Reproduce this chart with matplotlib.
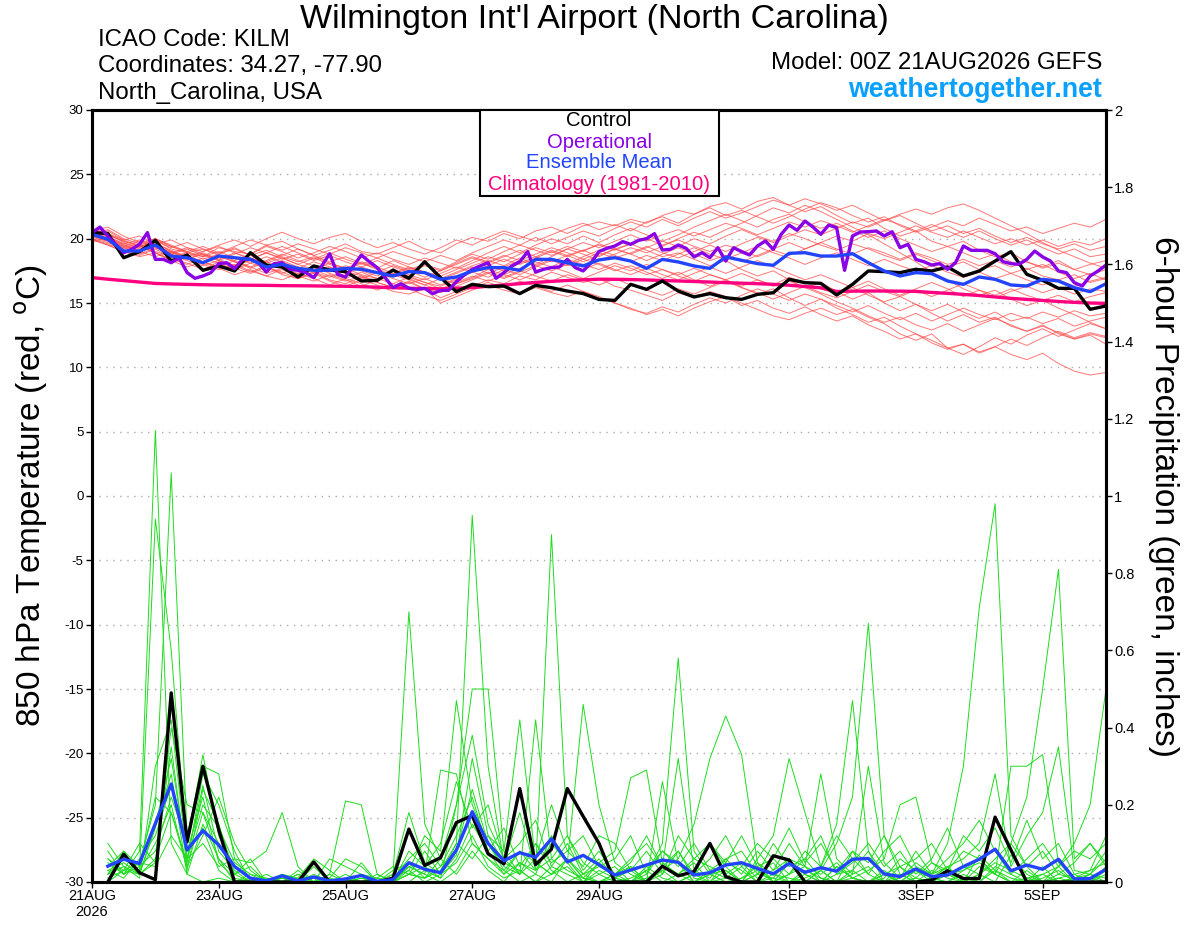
import numpy as np
import matplotlib
matplotlib.use('Agg')
import matplotlib.pyplot as plt
from matplotlib.patches import Rectangle

plt.rcParams['font.family'] = ['Liberation Sans', 'DejaVu Sans']

# forecast hours (6-hourly for GEFS, 3-hourly for operational)
hrs_t = np.arange(0, 385, 6)
hrs_p = np.arange(6, 385, 6)
hrs_op = np.arange(0, 385, 3)

tick_hours = [0, 48, 96, 144, 192, 264, 312, 360]
tick_labels = ['21AUG\n2026', '23AUG', '25AUG', '27AUG', '29AUG', '1SEP', '3SEP', '5SEP']

# 850 hPa temperature (C)
control_t = [20.47, 20.4, 18.52, 18.99, 19.87, 18.26, 18.73, 17.54, 17.88, 17.49, 18.91, 17.95, 17.80,
             17.02, 17.88, 17.56, 17.44, 16.71, 16.76, 17.56, 16.92, 18.21, 16.97, 15.88, 16.45, 16.27,
             16.32, 15.73, 16.37, 16.19, 15.93, 15.73, 15.28, 15.2, 16.45, 16.06, 16.71, 15.93, 15.47,
             15.73, 15.41, 15.28, 15.67, 15.80, 16.84, 16.58, 16.53, 15.62, 16.45, 17.49, 17.44, 17.36,
             17.62, 17.49, 17.80, 17.10, 17.49, 18.26, 18.99, 17.23, 16.76, 16.14, 16.14, 14.51, 14.77]

mean_t = [20.34, 19.95, 19.04, 19.04, 19.51, 18.65, 18.52, 18.13, 18.65, 18.52, 18.39, 17.8, 18.0,
          17.69, 17.54, 17.54, 17.69, 17.62, 17.36, 17.1, 17.44, 17.36, 16.84, 17.02, 17.49, 17.75,
          17.75, 17.54, 18.39, 18.39, 18.13, 17.88, 18.35, 18.52, 18.26, 17.69, 18.39, 18.19, 17.88,
          17.69, 18.58, 18.32, 18.06, 17.93, 18.86, 18.91, 18.65, 18.65, 18.83, 18.13, 17.49, 17.10,
          17.36, 17.28, 16.71, 16.45, 17.02, 16.84, 16.40, 16.32, 16.84, 16.71, 16.19, 15.88, 16.50]

clim_t = [16.97, 16.85, 16.74, 16.63, 16.52, 16.48, 16.45, 16.42, 16.40, 16.39, 16.38, 16.37, 16.35,
          16.34, 16.33, 16.31, 16.30, 16.27, 16.23, 16.19, 16.15, 16.12, 16.10, 16.15, 16.20, 16.30,
          16.40, 16.50, 16.60, 16.68, 16.75, 16.80, 16.85, 16.84, 16.82, 16.79, 16.75, 16.71, 16.67,
          16.63, 16.58, 16.54, 16.50, 16.45, 16.38, 16.28, 16.18, 15.90, 15.92, 15.93, 15.93, 15.92,
          15.90, 15.82, 15.75, 15.67, 15.58, 15.47, 15.36, 15.28, 15.20, 15.12, 15.05, 15.00, 14.97]

oper_t = [20.47, 20.9, 20.2, 19.56, 18.91, 19.17, 19.56, 20.47, 18.39, 18.39, 18.13, 18.52, 17.36,
          16.92, 17.1, 17.36, 18.06, 18.13, 17.67, 18.39, 18.39, 18.13, 17.41, 18.06, 18.13, 17.62,
          17.54, 17.36, 16.97, 17.88, 18.83, 17.23, 17.02, 17.88, 18.73, 18.21, 17.75, 16.97, 16.19,
          16.5, 16.14, 16.06, 16.14, 15.73, 15.98, 15.98, 16.66, 17.18, 17.62, 17.88, 18.13, 16.92,
          17.36, 17.88, 18.21, 18.99, 17.41, 17.62, 17.75, 17.80, 18.39, 17.75, 17.49, 18.13, 19.0,
          19.25, 19.43, 19.77, 19.56, 19.87, 20.0, 20.39, 19.12, 19.17, 19.51, 19.25, 18.58, 18.91,
          18.52, 19.30, 18.26, 19.30, 18.99, 18.73, 19.43, 19.82, 19.17, 20.34, 21.06, 20.65, 21.37,
          20.91, 20.34, 21.06, 20.85, 17.54, 20.21, 20.52, 20.54, 20.6, 20.21, 20.54, 19.30, 19.56,
          18.39, 18.21, 17.95, 18.06, 17.62, 18.13, 19.43, 19.09, 19.09, 19.09, 18.83, 18.21, 18.06,
          18.01, 18.39, 19.04, 18.58, 18.26, 17.49, 17.36, 16.58, 16.32, 17.10, 17.49, 17.95]

members_t = [
    [20.5, 20.2, 19.6, 19.3, 19.9, 19.2, 18.9, 18.6, 19.3, 19.0, 18.8, 19.5, 19.8,
     19.2, 18.7, 19.1, 19.6, 19.0, 18.8, 19.3, 19.8, 19.2, 18.9, 19.6, 20.1, 19.8,
     20.4, 20.0, 20.6, 20.9, 20.4, 21.0, 21.3, 21.0, 21.5, 21.2, 21.8, 22.2, 21.9,
     22.5, 22.8, 22.3, 22.9, 23.2, 22.6, 22.1, 22.5, 21.8, 21.2, 21.6, 20.8, 20.2,
     20.6, 19.8, 19.4, 19.8, 19.1, 18.6, 18.9, 18.2, 17.8, 18.3, 17.6, 17.2, 17.6],
    [20.1, 19.8, 19.0, 18.7, 19.2, 18.5, 18.1, 17.6, 18.2, 17.9, 17.4, 17.9, 17.2,
     16.9, 17.4, 16.8, 16.5, 17.0, 16.6, 16.2, 16.7, 16.1, 15.4, 15.9, 16.3, 16.8,
     16.5, 17.1, 16.8, 17.4, 17.0, 16.6, 16.9, 16.3, 16.0, 15.6, 15.2, 15.8, 15.4,
     15.9, 15.5, 14.8, 15.2, 14.6, 14.2, 14.7, 14.1, 13.6, 14.0, 13.3, 12.8, 12.2,
     12.6, 11.9, 11.4, 11.8, 11.2, 11.6, 11.0, 10.6, 11.1, 10.3, 9.7, 9.4, 9.6],
    [20.3, 20.6, 19.9, 19.4, 19.7, 19.0, 18.4, 18.8, 18.3, 17.8, 18.4, 18.9, 18.5,
     18.0, 17.6, 18.1, 17.7, 17.2, 16.9, 17.5, 17.1, 16.6, 16.3, 16.8, 17.4, 17.9,
     17.5, 18.1, 18.6, 18.2, 18.7, 19.1, 18.6, 19.2, 19.6, 19.1, 18.6, 18.9, 18.4,
     17.9, 18.3, 17.6, 17.1, 17.5, 16.8, 16.2, 16.6, 15.9, 15.3, 15.8, 15.0, 14.4,
     14.9, 14.2, 13.6, 14.1, 13.5, 13.9, 13.2, 12.8, 13.3, 12.6, 12.2, 12.5, 11.8],
    [20.8, 20.4, 19.9, 20.2, 19.6, 19.9, 19.3, 19.0, 19.5, 19.9, 19.4, 20.0, 20.5,
     20.0, 19.6, 20.1, 20.4, 19.8, 19.3, 19.7, 19.2, 18.8, 19.3, 19.9, 19.5, 20.1,
     20.6, 20.2, 19.8, 20.3, 20.8, 21.2, 20.7, 21.1, 20.6, 21.3, 21.7, 21.2, 21.9,
     22.4, 21.8, 22.2, 21.7, 21.2, 21.7, 22.3, 22.8, 22.4, 21.8, 21.3, 21.7, 21.0,
     20.5, 20.9, 21.4, 21.0, 21.6, 21.1, 20.6, 20.9, 20.4, 20.8, 21.2, 20.9, 21.5],
    [19.9, 19.6, 19.1, 18.8, 19.3, 18.7, 18.3, 17.9, 18.3, 17.7, 17.3, 17.8, 17.4,
     16.9, 17.3, 16.7, 16.3, 16.8, 16.4, 15.9, 15.7, 16.1, 15.0, 15.5, 16.0, 16.4,
     16.0, 15.7, 16.2, 15.8, 15.5, 15.9, 15.4, 15.0, 14.6, 14.1, 14.5, 14.0, 14.6,
     15.1, 15.5, 15.0, 14.5, 14.0, 13.7, 14.2, 14.6, 14.1, 14.5, 13.9, 13.4, 12.6,
     12.1, 12.6, 11.5, 11.0, 11.6, 12.3, 11.8, 12.5, 13.0, 12.4, 12.9, 13.4, 13.0],
    [20.2, 19.9, 19.3, 19.6, 19.0, 18.6, 18.9, 18.4, 18.8, 19.3, 18.7, 18.2, 18.7,
     19.2, 18.7, 18.2, 18.6, 18.1, 17.7, 18.3, 17.8, 17.4, 17.1, 17.6, 18.1, 18.6,
     18.2, 18.8, 19.3, 18.9, 19.4, 19.0, 19.6, 19.2, 18.8, 19.3, 19.8, 19.4, 20.0,
     19.6, 20.2, 20.7, 20.2, 19.8, 20.4, 20.0, 19.5, 19.1, 19.6, 19.2, 18.7, 18.3,
     18.8, 18.3, 17.8, 18.2, 17.6, 17.9, 17.3, 17.7, 17.1, 16.8, 17.2, 16.6, 16.9],
    [20.6, 20.9, 20.2, 19.7, 20.0, 19.4, 18.9, 19.2, 18.7, 18.3, 18.8, 19.4, 19.0,
     18.5, 18.9, 19.4, 19.0, 18.5, 18.9, 18.4, 18.0, 18.5, 18.1, 17.7, 18.3, 18.9,
     19.4, 18.9, 19.5, 20.0, 19.6, 20.2, 19.7, 20.3, 20.8, 20.3, 19.8, 20.3, 20.9,
     21.4, 21.9, 21.4, 20.9, 21.5, 21.9, 21.3, 20.8, 21.2, 20.6, 20.1, 20.6, 20.0,
     19.5, 19.0, 19.4, 18.9, 18.4, 18.8, 18.2, 17.6, 18.0, 17.4, 16.9, 17.3, 16.8],
    [20.0, 19.7, 19.2, 19.5, 18.9, 18.4, 18.0, 18.5, 18.1, 17.6, 18.1, 17.7, 17.3,
     17.8, 17.4, 17.0, 17.5, 17.1, 16.7, 17.2, 16.8, 16.4, 16.9, 16.5, 17.0, 17.6,
     17.2, 17.7, 18.2, 17.8, 18.4, 18.0, 17.6, 18.1, 17.7, 17.2, 17.6, 17.1, 16.7,
     17.2, 16.8, 16.3, 16.8, 16.4, 17.0, 16.6, 16.1, 15.7, 16.2, 15.6, 15.1, 15.5,
     14.9, 14.4, 14.9, 14.3, 13.8, 14.3, 13.6, 13.9, 13.4, 13.8, 13.2, 13.6, 13.9],
    [20.4, 20.0, 19.5, 19.1, 19.6, 19.1, 18.6, 18.2, 18.7, 18.2, 17.8, 18.3, 18.8,
     18.3, 17.9, 17.4, 17.9, 17.5, 17.1, 17.6, 17.2, 16.8, 17.3, 17.8, 17.4, 17.9,
     18.4, 18.0, 18.5, 19.0, 18.6, 19.1, 19.5, 19.1, 19.6, 20.0, 19.5, 19.9, 19.4,
     19.0, 19.5, 19.1, 18.6, 19.1, 18.7, 19.2, 19.7, 19.2, 18.8, 19.3, 18.9, 18.4,
     18.9, 18.5, 18.0, 18.4, 17.9, 18.3, 17.8, 18.2, 17.7, 18.1, 17.6, 18.0, 18.3],
    [20.7, 20.3, 19.8, 19.4, 19.8, 19.3, 19.7, 19.2, 18.8, 19.2, 18.7, 19.1, 18.6,
     18.2, 18.6, 18.1, 17.7, 18.2, 17.8, 17.3, 17.8, 17.4, 16.9, 17.4, 17.9, 18.3,
     17.9, 18.5, 18.0, 18.6, 19.2, 18.8, 18.3, 18.8, 19.3, 18.9, 19.4, 20.0, 20.5,
     20.1, 20.7, 21.2, 21.8, 22.4, 22.0, 22.6, 22.1, 21.5, 20.9, 20.3, 19.6, 18.9,
     18.2, 17.4, 16.8, 16.1, 15.6, 16.0, 15.3, 14.8, 15.2, 14.6, 14.1, 13.5, 13.0],
    [19.8, 20.1, 19.5, 19.0, 18.6, 19.0, 18.5, 18.0, 17.6, 18.0, 17.5, 17.1, 17.6,
     17.1, 16.7, 17.2, 16.8, 16.3, 16.8, 17.3, 16.9, 16.4, 16.0, 16.5, 16.9, 17.4,
     17.0, 17.5, 17.1, 16.7, 17.2, 16.8, 16.4, 16.9, 16.4, 16.0, 15.6, 16.1, 15.7,
     16.2, 16.7, 16.2, 15.8, 15.3, 15.8, 16.3, 15.8, 15.4, 15.9, 16.4, 15.9, 15.5,
     16.0, 15.5, 16.0, 16.5, 16.0, 15.6, 16.1, 15.6, 15.2, 15.6, 15.1, 15.5, 15.8],
    [20.3, 19.9, 19.4, 19.8, 19.3, 18.8, 19.2, 18.7, 18.3, 18.8, 19.3, 18.9, 18.4,
     18.8, 18.3, 18.7, 18.2, 17.8, 18.3, 17.8, 17.4, 17.9, 17.5, 18.1, 18.6, 18.2,
     18.7, 18.3, 18.8, 19.3, 18.9, 18.4, 18.9, 18.5, 18.9, 19.4, 18.9, 18.5, 19.0,
     19.5, 19.0, 19.6, 20.1, 19.7, 20.2, 20.7, 20.3, 20.8, 21.3, 20.9, 21.4, 21.9,
     22.3, 21.9, 22.4, 22.7, 22.2, 21.6, 21.0, 20.4, 19.7, 19.1, 18.6, 18.1, 17.7],
    [20.1, 20.4, 19.7, 19.2, 19.5, 18.9, 18.5, 18.1, 18.6, 18.2, 17.7, 18.2, 17.8,
     17.3, 17.8, 17.3, 16.9, 17.4, 16.9, 16.5, 17.0, 16.6, 16.1, 16.6, 17.1, 16.7,
     17.2, 16.8, 17.3, 17.8, 17.4, 16.9, 17.4, 17.9, 17.5, 18.0, 17.6, 17.2, 17.7,
     17.2, 16.8, 17.3, 16.8, 16.3, 16.7, 16.2, 15.7, 15.1, 14.6, 14.0, 13.5, 13.9,
     13.3, 12.9, 13.4, 12.8, 13.3, 13.8, 13.3, 12.8, 13.2, 12.7, 12.2, 12.6, 12.3],
    [20.5, 20.1, 19.6, 19.9, 19.4, 18.9, 19.3, 18.8, 18.4, 18.9, 18.5, 18.1, 18.5,
     18.0, 18.5, 18.0, 17.6, 18.1, 17.6, 17.2, 17.7, 17.3, 16.8, 17.3, 17.8, 17.3,
     17.8, 18.3, 17.9, 18.4, 18.0, 18.6, 19.1, 18.7, 18.2, 18.7, 18.3, 18.8, 19.3,
     18.8, 18.4, 18.9, 19.4, 18.9, 18.5, 18.0, 18.5, 18.9, 18.4, 17.9, 18.4, 17.9,
     17.5, 17.9, 17.4, 17.0, 17.4, 16.9, 17.3, 16.8, 16.4, 16.8, 16.3, 16.7, 17.0],
    [20.0, 19.5, 19.0, 18.6, 18.9, 18.3, 17.8, 18.2, 17.7, 17.2, 17.6, 17.1, 16.8,
     17.3, 16.9, 16.4, 16.9, 16.5, 16.0, 16.5, 16.1, 15.6, 15.2, 15.7, 16.2, 16.6,
     16.2, 16.7, 16.3, 15.9, 16.4, 15.9, 15.5, 15.0, 14.5, 14.2, 14.7, 14.3, 14.9,
     15.4, 15.0, 15.6, 16.1, 15.7, 15.2, 15.7, 15.3, 14.8, 14.3, 14.8, 14.2, 13.7,
     14.2, 13.6, 14.1, 14.6, 14.1, 13.7, 14.2, 13.8, 14.3, 13.9, 14.4, 14.0, 14.2],
    [20.6, 20.3, 19.8, 19.5, 19.9, 19.4, 19.0, 19.4, 18.9, 19.4, 19.9, 19.5, 19.1,
     19.6, 19.2, 18.8, 19.3, 18.9, 18.5, 19.0, 18.6, 18.2, 18.7, 18.3, 18.9, 19.4,
     19.9, 19.5, 20.1, 19.6, 20.1, 20.6, 20.2, 20.8, 21.3, 20.9, 21.5, 21.0, 21.6,
     22.1, 21.6, 22.0, 22.5, 23.0, 22.6, 23.1, 22.7, 22.2, 22.6, 22.0, 21.4, 21.8,
     21.2, 20.6, 21.0, 20.4, 20.8, 20.2, 19.7, 20.1, 19.6, 19.2, 19.6, 19.1, 19.4],
    [20.2, 19.8, 19.3, 19.0, 19.4, 18.8, 18.4, 18.9, 18.4, 17.9, 18.3, 17.8, 18.3,
     17.8, 17.3, 17.8, 17.3, 16.9, 17.4, 16.9, 16.5, 16.9, 16.4, 16.9, 17.4, 17.0,
     17.6, 17.2, 17.8, 18.3, 17.9, 18.4, 18.0, 17.5, 17.9, 17.4, 16.9, 17.4, 16.8,
     16.3, 16.8, 16.2, 15.7, 16.1, 15.4, 14.8, 15.3, 14.6, 14.1, 13.5, 13.9, 13.2,
     12.6, 12.1, 11.5, 11.8, 11.1, 11.6, 12.2, 11.7, 12.3, 12.8, 12.3, 12.7, 12.4],
    [20.4, 20.7, 20.0, 19.6, 20.0, 19.5, 19.0, 18.6, 19.0, 18.5, 18.1, 18.6, 18.2,
     17.7, 18.2, 17.8, 17.3, 17.8, 17.4, 17.9, 17.5, 17.0, 17.5, 18.0, 18.5, 18.1,
     18.6, 19.1, 18.6, 19.1, 18.7, 18.2, 18.7, 19.2, 18.8, 18.3, 18.8, 19.3, 18.8,
     18.3, 18.7, 18.2, 18.7, 19.2, 19.7, 19.2, 19.7, 20.2, 19.8, 20.4, 20.0, 20.5,
     21.0, 20.5, 20.1, 20.6, 20.1, 19.6, 20.0, 19.5, 19.9, 19.4, 19.8, 19.5, 20.0],
    [19.9, 19.5, 19.0, 19.4, 18.9, 18.3, 18.7, 18.2, 17.8, 18.3, 17.8, 17.3, 17.7,
     17.2, 17.6, 17.1, 16.7, 17.1, 16.6, 16.2, 16.6, 16.1, 15.8, 16.3, 16.8, 17.3,
     16.9, 17.4, 17.9, 17.5, 18.0, 17.6, 18.1, 17.6, 17.2, 17.7, 17.2, 16.8, 17.3,
     17.8, 17.3, 17.8, 18.3, 17.8, 17.3, 16.8, 17.2, 16.7, 16.2, 16.7, 16.1, 15.6,
     16.1, 16.6, 16.1, 15.5, 16.0, 15.4, 15.9, 16.3, 15.8, 16.2, 15.7, 16.1, 15.9],
    [20.3, 20.0, 19.4, 19.1, 19.5, 19.0, 18.6, 19.0, 19.4, 18.9, 18.4, 18.9, 19.4,
     18.9, 18.4, 18.9, 18.4, 18.0, 18.5, 18.0, 17.6, 18.0, 17.6, 18.2, 18.8, 18.4,
     19.0, 19.5, 19.1, 18.7, 19.2, 19.7, 19.3, 19.8, 20.3, 19.8, 20.3, 20.7, 20.2,
     20.7, 21.2, 20.8, 20.3, 20.8, 21.3, 20.9, 21.4, 21.0, 20.5, 21.0, 21.5, 21.1,
     20.6, 21.1, 20.6, 20.1, 20.6, 20.0, 19.5, 19.9, 19.3, 18.8, 19.2, 18.6, 18.8],
]

# 6-hour precipitation (inches)
control_p = [0.0, 0.072, 0.024, 0.006, 0.49, 0.104, 0.30, 0.135,
             0.0, 0.0, 0.0, 0.0, 0.0, 0.052, 0.0, 0.0,
             0.0, 0.0, 0.01, 0.137, 0.043, 0.063, 0.154, 0.172,
             0.073, 0.047, 0.242, 0.045, 0.085, 0.242, 0.17, 0.10,
             0.0, 0.0, 0.0, 0.041, 0.016, 0.027, 0.10, 0.014,
             0.0, 0.0, 0.068, 0.057, 0.0, 0.0, 0.0, 0.0,
             0.0, 0.0, 0.0, 0.0, 0.005, 0.029, 0.009, 0.009,
             0.168, 0.083, 0.0, 0.0, 0.0, 0.0, 0.0, 0.0]

mean_p = [0.041, 0.059, 0.048, 0.152, 0.254, 0.083, 0.133, 0.096,
          0.040, 0.010, 0.003, 0.016, 0.003, 0.013, 0.003, 0.008,
          0.017, 0.002, 0.006, 0.050, 0.033, 0.024, 0.083, 0.182,
          0.100, 0.055, 0.076, 0.064, 0.112, 0.052, 0.069, 0.045,
          0.018, 0.031, 0.044, 0.057, 0.051, 0.018, 0.024, 0.044,
          0.050, 0.035, 0.021, 0.048, 0.025, 0.037, 0.028, 0.059,
          0.061, 0.021, 0.014, 0.034, 0.014, 0.018, 0.040, 0.059,
          0.085, 0.029, 0.044, 0.033, 0.059, 0.008, 0.009, 0.033]

members_p = [
    [0.05, 0.02, 0.08, 1.17, 0.10, 0.02, 0.00, 0.01,
     0.00, 0.00, 0.01, 0.00, 0.00, 0.02, 0.00, 0.00,
     0.00, 0.00, 0.01, 0.03, 0.00, 0.02, 0.05, 0.12,
     0.04, 0.01, 0.03, 0.00, 0.02, 0.06, 0.01, 0.00,
     0.02, 0.00, 0.04, 0.01, 0.00, 0.02, 0.00, 0.05,
     0.03, 0.00, 0.01, 0.00, 0.02, 0.00, 0.04, 0.01,
     0.00, 0.03, 0.00, 0.01, 0.05, 0.02, 0.00, 0.07,
     0.03, 0.00, 0.01, 0.02, 0.00, 0.01, 0.00, 0.03],
    [0.02, 0.06, 0.03, 0.94, 0.60, 0.08, 0.22, 0.05,
     0.01, 0.00, 0.00, 0.02, 0.00, 0.00, 0.01, 0.00,
     0.00, 0.02, 0.00, 0.00, 0.03, 0.01, 0.20, 0.38,
     0.15, 0.06, 0.02, 0.10, 0.03, 0.00, 0.02, 0.06,
     0.01, 0.00, 0.03, 0.08, 0.05, 0.00, 0.02, 0.00,
     0.01, 0.04, 0.00, 0.02, 0.06, 0.01, 0.00, 0.03,
     0.08, 0.00, 0.02, 0.00, 0.01, 0.04, 0.00, 0.02,
     0.00, 0.07, 0.02, 0.00, 0.01, 0.00, 0.02, 0.00],
    [0.00, 0.03, 0.05, 0.20, 1.06, 0.12, 0.30, 0.28,
     0.06, 0.01, 0.00, 0.00, 0.02, 0.00, 0.00, 0.00,
     0.01, 0.00, 0.00, 0.02, 0.01, 0.04, 0.08, 0.24,
     0.10, 0.03, 0.00, 0.02, 0.12, 0.05, 0.00, 0.02,
     0.04, 0.00, 0.01, 0.03, 0.00, 0.02, 0.10, 0.04,
     0.00, 0.02, 0.05, 0.00, 0.01, 0.03, 0.00, 0.08,
     0.02, 0.00, 0.04, 0.01, 0.00, 0.02, 0.03, 0.06,
     0.02, 0.00, 0.00, 0.04, 0.00, 0.01, 0.03, 0.05],
    [0.04, 0.08, 0.02, 0.05, 0.35, 0.04, 0.18, 0.10,
     0.02, 0.00, 0.00, 0.01, 0.00, 0.00, 0.00, 0.01,
     0.00, 0.00, 0.02, 0.70, 0.15, 0.06, 0.02, 0.08,
     0.03, 0.00, 0.05, 0.02, 0.00, 0.06, 0.02, 0.00,
     0.01, 0.04, 0.00, 0.26, 0.05, 0.00, 0.02, 0.03,
     0.00, 0.02, 0.01, 0.06, 0.00, 0.03, 0.10, 0.22,
     0.67, 0.12, 0.02, 0.00, 0.03, 0.01, 0.00, 0.04,
     0.02, 0.00, 0.03, 0.00, 0.01, 0.02, 0.00, 0.04],
    [0.03, 0.01, 0.06, 0.12, 0.25, 0.08, 0.14, 0.03,
     0.00, 0.01, 0.00, 0.00, 0.00, 0.01, 0.00, 0.00,
     0.00, 0.00, 0.00, 0.02, 0.01, 0.03, 0.10, 0.95,
     0.30, 0.05, 0.03, 0.00, 0.04, 0.02, 0.00, 0.05,
     0.01, 0.03, 0.00, 0.02, 0.08, 0.01, 0.00, 0.03,
     0.00, 0.05, 0.02, 0.00, 0.03, 0.01, 0.00, 0.02,
     0.04, 0.00, 0.01, 0.05, 0.02, 0.10, 0.30, 0.71,
     0.98, 0.12, 0.04, 0.00, 0.02, 0.01, 0.00, 0.02],
    [0.02, 0.04, 0.01, 0.30, 0.42, 0.06, 0.25, 0.08,
     0.03, 0.00, 0.00, 0.00, 0.01, 0.00, 0.00, 0.00,
     0.00, 0.01, 0.00, 0.04, 0.02, 0.00, 0.03, 0.10,
     0.06, 0.02, 0.08, 0.03, 0.90, 0.12, 0.05, 0.02,
     0.00, 0.01, 0.03, 0.00, 0.02, 0.05, 0.00, 0.01,
     0.04, 0.00, 0.02, 0.01, 0.00, 0.03, 0.00, 0.01,
     0.00, 0.02, 0.04, 0.00, 0.01, 0.00, 0.03, 0.05,
     0.02, 0.10, 0.22, 0.50, 0.81, 0.06, 0.10, 0.05],
    [0.06, 0.02, 0.04, 0.08, 0.22, 0.10, 0.33, 0.12,
     0.04, 0.01, 0.00, 0.00, 0.00, 0.00, 0.02, 0.00,
     0.00, 0.00, 0.03, 0.05, 0.01, 0.06, 0.20, 0.50,
     0.50, 0.08, 0.42, 0.05, 0.02, 0.04, 0.00, 0.03,
     0.01, 0.00, 0.02, 0.10, 0.58, 0.08, 0.02, 0.00,
     0.01, 0.03, 0.00, 0.05, 0.02, 0.00, 0.04, 0.01,
     0.00, 0.02, 0.00, 0.03, 0.01, 0.00, 0.02, 0.00,
     0.03, 0.01, 0.00, 0.02, 0.04, 0.00, 0.01, 0.00],
    [0.03, 0.05, 0.02, 0.06, 0.18, 0.05, 0.28, 0.20,
     0.08, 0.00, 0.02, 0.00, 0.00, 0.00, 0.00, 0.00,
     0.00, 0.01, 0.00, 0.03, 0.12, 0.08, 0.47, 0.20,
     0.10, 0.04, 0.02, 0.42, 0.06, 0.03, 0.01, 0.00,
     0.02, 0.04, 0.00, 0.03, 0.06, 0.15, 0.32, 0.43,
     0.33, 0.05, 0.00, 0.02, 0.04, 0.00, 0.02, 0.03,
     0.00, 0.01, 0.06, 0.03, 0.00, 0.02, 0.01, 0.00,
     0.04, 0.02, 0.00, 0.01, 0.03, 0.00, 0.02, 0.01],
    [0.01, 0.03, 0.02, 0.14, 0.28, 0.02, 0.15, 0.06,
     0.00, 0.02, 0.00, 0.01, 0.00, 0.00, 0.00, 0.00,
     0.01, 0.00, 0.00, 0.02, 0.04, 0.01, 0.06, 0.15,
     0.08, 0.02, 0.05, 0.03, 0.10, 0.05, 0.46, 0.20,
     0.05, 0.02, 0.00, 0.04, 0.02, 0.00, 0.03, 0.01,
     0.00, 0.06, 0.12, 0.32, 0.18, 0.04, 0.15, 0.47,
     0.08, 0.02, 0.00, 0.03, 0.01, 0.04, 0.00, 0.02,
     0.05, 0.03, 0.01, 0.00, 0.04, 0.10, 0.20, 0.50],
    [0.08, 0.02, 0.05, 0.04, 0.12, 0.06, 0.10, 0.04,
     0.06, 0.05, 0.08, 0.18, 0.04, 0.00, 0.02, 0.21,
     0.20, 0.02, 0.00, 0.04, 0.02, 0.29, 0.28, 0.10,
     0.06, 0.03, 0.08, 0.05, 0.02, 0.06, 0.01, 0.05,
     0.08, 0.27, 0.29, 0.05, 0.02, 0.06, 0.04, 0.02,
     0.05, 0.01, 0.03, 0.06, 0.04, 0.02, 0.05, 0.01,
     0.03, 0.06, 0.20, 0.22, 0.05, 0.03, 0.08, 0.06,
     0.02, 0.30, 0.30, 0.33, 0.05, 0.01, 0.02, 0.06],
    [0.04, 0.06, 0.03, 0.10, 0.20, 0.03, 0.24, 0.15,
     0.02, 0.04, 0.00, 0.02, 0.01, 0.06, 0.03, 0.00,
     0.05, 0.00, 0.02, 0.18, 0.05, 0.02, 0.07, 0.32,
     0.12, 0.05, 0.18, 0.03, 0.06, 0.12, 0.03, 0.08,
     0.02, 0.05, 0.12, 0.04, 0.32, 0.03, 0.01, 0.06,
     0.02, 0.08, 0.03, 0.10, 0.04, 0.28, 0.06, 0.02,
     0.30, 0.05, 0.01, 0.08, 0.02, 0.04, 0.06, 0.10,
     0.28, 0.04, 0.12, 0.18, 0.35, 0.03, 0.02, 0.08],
    [0.10, 0.04, 0.02, 0.15, 0.32, 0.06, 0.20, 0.14,
     0.05, 0.02, 0.01, 0.00, 0.03, 0.00, 0.01, 0.06,
     0.04, 0.00, 0.01, 0.06, 0.10, 0.04, 0.12, 0.22,
     0.08, 0.14, 0.04, 0.10, 0.05, 0.08, 0.04, 0.12,
     0.10, 0.03, 0.08, 0.02, 0.12, 0.06, 0.10, 0.05,
     0.12, 0.04, 0.06, 0.14, 0.05, 0.10, 0.03, 0.08,
     0.05, 0.12, 0.04, 0.06, 0.10, 0.03, 0.12, 0.08,
     0.14, 0.05, 0.16, 0.06, 0.10, 0.02, 0.03, 0.12],
    [0.02, 0.08, 0.04, 0.22, 0.18, 0.04, 0.12, 0.22,
     0.10, 0.03, 0.00, 0.01, 0.00, 0.04, 0.00, 0.02,
     0.00, 0.00, 0.00, 0.08, 0.04, 0.10, 0.26, 0.14,
     0.20, 0.06, 0.10, 0.16, 0.04, 0.10, 0.02, 0.04,
     0.06, 0.12, 0.02, 0.08, 0.04, 0.10, 0.03, 0.06,
     0.08, 0.02, 0.10, 0.04, 0.06, 0.12, 0.02, 0.05,
     0.10, 0.04, 0.08, 0.02, 0.06, 0.14, 0.04, 0.02,
     0.06, 0.10, 0.04, 0.08, 0.02, 0.05, 0.10, 0.04],
    [0.06, 0.03, 0.10, 0.05, 0.40, 0.20, 0.18, 0.06,
     0.02, 0.06, 0.00, 0.00, 0.02, 0.00, 0.06, 0.04,
     0.02, 0.01, 0.04, 0.02, 0.08, 0.02, 0.10, 0.06,
     0.12, 0.08, 0.02, 0.06, 0.20, 0.08, 0.12, 0.04,
     0.02, 0.06, 0.10, 0.04, 0.08, 0.02, 0.06, 0.12,
     0.04, 0.10, 0.06, 0.02, 0.08, 0.04, 0.12, 0.06,
     0.02, 0.08, 0.12, 0.04, 0.02, 0.06, 0.10, 0.16,
     0.08, 0.02, 0.06, 0.10, 0.04, 0.08, 0.06, 0.10],
]

# figure
fig = plt.figure(figsize=(12, 9.27), dpi=100)
ax = fig.add_axes([92 / 1200, 1 - 882 / 927, (1106 - 92) / 1200, (882 - 110) / 927])
ax2 = ax.twinx()

# temperature lines
for m in members_t:
    ax.plot(hrs_t, m, color='#ff4a4a', lw=0.7, alpha=0.75)
ax.plot(hrs_t, clim_t, color='#ff0080', lw=2.4)
ax.plot(hrs_t, control_t, color='black', lw=2.4)
ax.plot(hrs_op, oper_t, color='#8a00e6', lw=2.4)
ax.plot(hrs_t, mean_t, color='#2244ff', lw=2.4)

# precipitation lines
for m in members_p:
    ax2.plot(hrs_p, m, color='#1edc1e', lw=0.7)
ax2.plot(hrs_p, control_p, color='black', lw=2.4)
ax2.plot(hrs_p, mean_p, color='#2244ff', lw=2.4)

ax.set_xlim(0, 384)
ax.set_ylim(-30, 30)
ax2.set_ylim(0, 2)

ax.set_yticks(np.arange(-30, 31, 5))
ax.set_yticklabels([str(v) for v in range(-30, 31, 5)])
p_ticks = np.round(np.arange(0, 2.01, 0.2), 1)
ax2.set_yticks(p_ticks)
ax2.set_yticklabels(['%g' % v for v in p_ticks])
ax.set_xticks(tick_hours)
ax.set_xticklabels(tick_labels)

ax.yaxis.grid(True, linestyle=(0, (1, 4)), color='#aaaaaa', lw=1.0)
ax.set_axisbelow(True)

for a in (ax, ax2):
    for s in a.spines.values():
        s.set_linewidth(2.2)
ax.tick_params(axis='y', direction='out', length=4, width=1, labelsize=9.5, pad=2)
ax2.tick_params(axis='y', direction='out', length=4, width=1, labelsize=10.5, pad=2)
ax.tick_params(axis='x', direction='out', length=4, width=1, labelsize=10.5, pad=1)

ax.set_ylabel('850 hPa Temperature (red, $^{\\rm o}$C)', fontsize=24, labelpad=10)
ax2.set_ylabel('6-hour Precipitation (green, inches)', fontsize=24, rotation=-90, labelpad=32)

# header text
fig.text(0.495, 1 - 28 / 927, "Wilmington Int'l Airport (North Carolina)", fontsize=24.5,
         ha='center', va='baseline')
fig.text(98 / 1200, 1 - 40 / 927, 'ICAO Code: KILM', fontsize=17.3, ha='left', va='center')
fig.text(98 / 1200, 1 - 66 / 927, 'Coordinates: 34.27, -77.90', fontsize=17.3, ha='left', va='center')
fig.text(98 / 1200, 1 - 93 / 927, 'North_Carolina, USA', fontsize=17.3, ha='left', va='center')
fig.text(1102 / 1200, 1 - 63 / 927, 'Model: 00Z 21AUG2026 GEFS', fontsize=17.3, ha='right', va='center')
fig.text(1102 / 1200, 1 - 90 / 927, 'weathertogether.net', fontsize=19.3, ha='right', va='center',
         color='#0aa0ff', fontweight='bold')

# legend box
fig.patches.append(Rectangle((480 / 1200, 1 - 196 / 927), 239 / 1200, 86 / 927,
                             transform=fig.transFigure, facecolor='white', edgecolor='black',
                             lw=1.5, zorder=5))
leg_items = [('Control', 'black', 121), ('Operational', '#8a00e6', 142),
             ('Ensemble Mean', '#2244ff', 163), ('Climatology (1981-2010)', '#ff0080', 185)]
for txt, col, yy in leg_items:
    fig.text(599 / 1200, 1 - yy / 927, txt, color=col, fontsize=14.6, ha='center', va='center', zorder=6)

fig.savefig('out.png', dpi=100)
